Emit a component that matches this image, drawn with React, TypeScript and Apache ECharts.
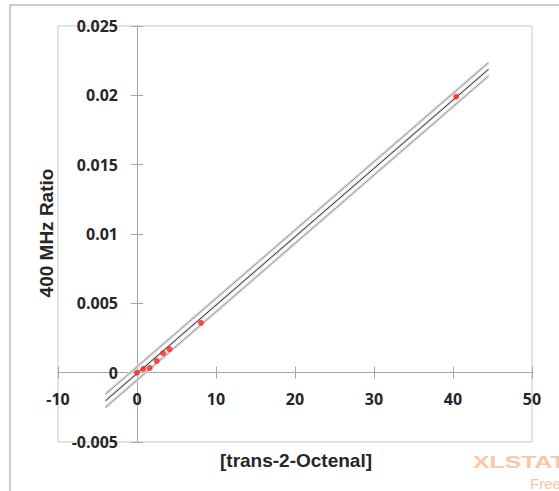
import React, { useEffect, useRef } from "react";
import * as echarts from "echarts";

// Observed data points: [trans-2-Octenal] vs 400 MHz Ratio
const concX = [0, 0.8, 1.6, 2.5, 3.3, 4.1, 8.1, 40.4];
const ratioY = [0, 0.00027, 0.00034, 0.00085, 0.0014, 0.0017, 0.0036, 0.0199];

// Regression line and confidence band (ends of the drawn segments)
const lineX = [-4, 44.5];
const fitY = [-0.00203, 0.02188];
const upperY = [-0.00155, 0.02236];
const lowerY = [-0.00251, 0.0214];

// Axes
const xMin = -10, xMax = 50, xStep = 10;
const yMin = -0.005, yMax = 0.025, yStep = 0.005;

const xTitle = "[trans-2-Octenal]";
const yTitle = "400 MHz Ratio";

export default function App() {
  const ref = useRef<HTMLDivElement>(null);
  useEffect(() => {
    if (!ref.current) return;
    const chart = echarts.init(ref.current, undefined, { renderer: "svg" });
    const pts = concX.map((x, i) => [x, ratioY[i]]);
    const seg = (ys: number[]) => lineX.map((x, i) => [x, ys[i]]);
    const tickFont = {
      fontFamily: "Open Sans",
      fontWeight: "bold" as const,
      fontSize: 16,
      color: "#262626",
    };
    const axisLineStyle = { color: "#a6a6a6", width: 1 };
    const xBase = {
      type: "value" as const,
      min: xMin,
      max: xMax,
      interval: xStep,
      position: "bottom" as const,
      splitLine: { show: false },
      axisLine: { show: true, onZero: true, onZeroAxisIndex: 0, lineStyle: axisLineStyle },
    };
    const yBase = {
      type: "value" as const,
      min: yMin,
      max: yMax,
      interval: yStep,
      position: "left" as const,
      splitLine: { show: false },
      axisLine: { show: true, onZero: true, onZeroAxisIndex: 0, lineStyle: axisLineStyle },
    };
    const lineSeries = (ys: number[], color: string, width: number) => ({
      type: "line" as const,
      data: seg(ys),
      showSymbol: false,
      symbol: "none",
      lineStyle: { color, width },
      silent: true,
      z: 2,
    });
    chart.setOption({
      animation: false,
      grid: {
        left: 58,
        top: 26,
        right: 27,
        bottom: 49,
        outerBoundsMode: "none",
        containLabel: false,
        show: true,
        borderColor: "#c9c9c9",
        borderWidth: 1,
        backgroundColor: "transparent",
      },
      xAxis: [
        {
          ...xBase,
          axisTick: { show: true, inside: false, length: 6, lineStyle: axisLineStyle },
          axisLabel: { ...tickFont, margin: -51, showMinLabel: true, showMaxLabel: true },
        },
        {
          ...xBase,
          axisTick: { show: true, inside: true, length: 6, lineStyle: axisLineStyle },
          axisLabel: { show: false },
        },
      ],
      yAxis: [
        {
          ...yBase,
          axisTick: { show: true, inside: false, length: 6, lineStyle: axisLineStyle },
          axisLabel: { ...tickFont, margin: -60, showMinLabel: true, showMaxLabel: true },
        },
        {
          ...yBase,
          axisTick: { show: true, inside: true, length: 6, lineStyle: axisLineStyle },
          axisLabel: { show: false },
        },
      ],
      series: [
        lineSeries(upperY, "#dedede", 3),
        lineSeries(lowerY, "#dedede", 3),
        lineSeries(fitY, "#e4e4e4", 3),
        lineSeries(upperY, "#999999", 1),
        lineSeries(lowerY, "#999999", 1),
        lineSeries(fitY, "#2a2a2a", 1),
        {
          type: "scatter",
          data: pts,
          symbol: "circle",
          symbolSize: 6,
          itemStyle: { color: "#ff1f1f" },
          z: 5,
        },
      ],
      graphic: [
        {
          type: "rect",
          shape: { x: 10, y: 5, width: 700, height: 700 },
          style: { fill: "none", stroke: "#bdbdbd", lineWidth: 1.5 },
          silent: true,
        },
        {
          type: "text",
          x: 296,
          y: 460,
          style: {
            text: xTitle,
            font: "bold 19px 'Liberation Sans', Arial, sans-serif",
            fill: "#262626",
            textAlign: "center",
            textVerticalAlign: "middle",
          },
        },
        {
          type: "text",
          x: 46,
          y: 233,
          rotation: Math.PI / 2,
          style: {
            text: yTitle,
            font: "bold 19px 'Liberation Sans', Arial, sans-serif",
            fill: "#262626",
            textAlign: "center",
            textVerticalAlign: "middle",
          },
        },
        {
          type: "text",
          x: 473,
          y: 462,
          scaleX: 1.55,
          style: {
            text: "XLSTAT",
            font: "bold 16px 'Liberation Sans', Arial, sans-serif",
            fill: "#fbc6a4",
            textAlign: "left",
            textVerticalAlign: "middle",
          },
        },
        {
          type: "text",
          x: 530,
          y: 483,
          style: {
            text: "Free",
            font: "15px 'Liberation Sans', Arial, sans-serif",
            fill: "#fbc6a4",
            textAlign: "left",
            textVerticalAlign: "middle",
          },
        },
      ],
    });
    return () => chart.dispose();
  }, []);
  return (
    <div
      ref={ref}
      style={{ position: "fixed", left: 0, top: 0, width: 559, height: 491, background: "#fff" }}
    />
  );
}
